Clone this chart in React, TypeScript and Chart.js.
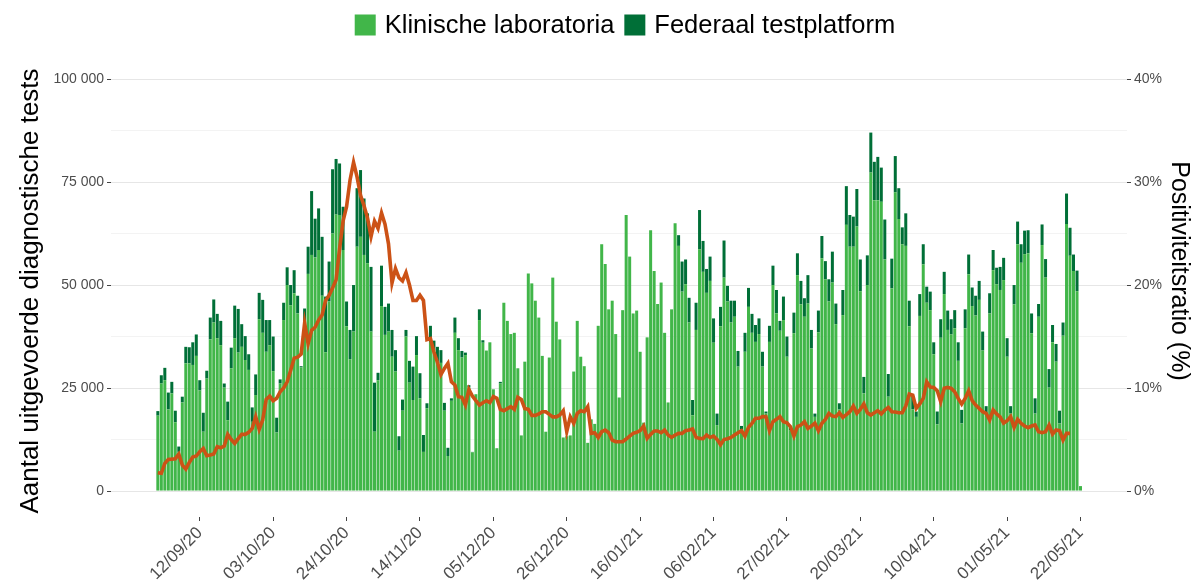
import React, { useEffect, useRef } from "react";
import { Chart, registerables } from "chart.js";
Chart.register(...registerables);

const FONT = "'Liberation Sans', Arial, sans-serif";
const LIGHT = "#41b649";
const DARK = "#006f37";
const LINE = "#cc5216";

// x tick positions (day index from 31/08/20) and labels
const tickDays = [12, 33, 54, 75, 96, 117, 138, 159, 180, 201, 222, 243, 264];
const tickLabels = ["12/09/20", "03/10/20", "24/10/20", "14/11/20", "05/12/20", "26/12/20", "16/01/21", "06/02/21", "27/02/21", "20/03/21", "10/04/21", "01/05/21", "22/05/21"];

// daily tests, thousands (day 0 = 31/08/20)
const klinische = [
  18.3, 26.1, 26.9, 19.8, 23.7, 16.7, 9.5, 21.5, 31.0, 31.0,
  30.6, 32.8, 24.4, 14.4, 27.3, 36.8, 40.9, 37.1, 35.4, 25.1,
  17.2, 29.8, 37.1, 33.6, 35.0, 31.8, 29.4, 16.8, 23.3, 41.7,
  38.4, 33.8, 35.4, 29.1, 14.2, 26.1, 41.5, 50.0, 45.1, 48.0,
  43.1, 30.0, 41.3, 52.7, 57.3, 56.7, 58.5, 47.4, 33.7, 46.0,
  62.5, 67.1, 67.0, 58.5, 40.0, 32.0, 38.7, 59.3, 61.7, 57.3,
  55.3, 38.7, 14.4, 26.9, 44.9, 37.9, 38.7, 32.6, 29.0, 9.8,
  19.5, 37.5, 26.3, 22.1, 33.0, 22.5, 9.5, 20.1, 36.2, 34.2,
  30.8, 31.1, 19.5, 8.5, 21.9, 38.4, 34.2, 32.4, 33.0, 25.2,
  9.4, 23.5, 41.5, 36.0, 34.1, 36.1, 24.7, 10.4, 26.1, 45.7,
  41.3, 38.1, 38.4, 29.8, 13.5, 31.4, 52.8, 50.4, 46.2, 42.1,
  32.8, 14.4, 32.4, 51.8, 41.1, 36.8, 13.0, 13.3, 13.5, 29.0,
  41.3, 32.6, 30.3, 11.7, 17.4, 16.3, 40.1, 59.9, 55.1, 44.1,
  46.2, 38.1, 22.7, 43.9, 67.0, 56.9, 43.1, 43.8, 33.8, 16.6,
  37.3, 63.3, 53.4, 45.4, 50.6, 38.4, 21.5, 44.1, 65.0, 59.5,
  48.4, 50.2, 40.9, 18.4, 39.1, 58.7, 53.2, 48.1, 51.0, 36.0,
  16.0, 40.0, 51.8, 46.0, 40.9, 42.3, 30.2, 15.0, 33.8, 44.7,
  38.4, 36.2, 38.1, 30.2, 18.8, 36.2, 50.0, 43.1, 38.9, 41.5,
  32.6, 14.8, 38.3, 52.4, 45.3, 42.3, 45.5, 34.6, 18.0, 38.5,
  56.5, 51.4, 46.0, 50.6, 40.5, 19.8, 42.7, 64.6, 59.3, 59.3,
  64.2, 48.5, 23.7, 50.0, 77.3, 70.6, 70.6, 70.2, 56.2, 22.9,
  49.2, 72.5, 66.0, 59.9, 59.5, 40.0, 19.8, 18.0, 42.5, 55.0,
  45.7, 43.9, 33.2, 16.2, 37.2, 47.8, 39.1, 38.0, 39.5, 31.6,
  16.4, 39.5, 52.6, 44.9, 42.6, 46.4, 34.1, 18.8, 43.1, 53.6,
  50.2, 48.8, 51.2, 32.6, 18.8, 45.3, 59.9, 55.4, 57.5, 57.7,
  38.3, 18.8, 42.3, 59.7, 51.8, 25.1, 36.1, 31.4, 16.4, 37.7,
  64.8, 57.1, 53.4, 48.5, 1.2,
];

const federaal = [
  1.1, 2.0, 3.0, 4.1, 2.8, 2.8, 1.3, 1.4, 4.0, 3.9,
  5.5, 5.2, 2.5, 4.6, 1.9, 5.3, 5.6, 5.9, 5.9, 1.0,
  4.5, 5.0, 7.9, 10.6, 5.5, 5.8, 3.8, 3.5, 5.0, 6.4,
  8.0, 7.7, 6.1, 8.4, 3.6, 1.0, 4.2, 4.3, 4.9, 5.6,
  4.3, 0.3, 3.0, 6.6, 15.5, 9.4, 10.1, 14.3, 13.5, 9.7,
  15.6, 13.5, 12.5, 10.5, 6.0, 7.1, 11.3, 14.2, 16.2, 13.7,
  12.1, 15.7, 11.9, 1.8, 9.8, 6.8, 6.8, 6.5, 5.2, 3.5,
  2.7, 1.6, 5.3, 8.1, 4.6, 6.1, 4.1, 1.2, 3.9, 2.3,
  4.2, 3.1, 1.9, 2.0, 0.6, 3.7, 2.9, 1.6, 0.6, 0.5,
  0.1, 0, 2.6, 0.6, 0, 0, 0, 0, 0.4, 0,
  0, 0, 0, 0, 0, 0, 0, 0, 0, 0,
  0, 0, 0, 0, 0, 0, 0, 0, 0, 0,
  0, 0, 0, 0, 0, 0, 0, 0, 0, 0,
  0, 0, 0, 0, 0, 0, 0, 0, 0, 0,
  0, 0, 0, 0, 0, 0, 0, 0, 0, 2.6,
  7.3, 6.0, 6.0, 3.7, 6.6, 9.5, 7.5, 5.8, 5.9, 5.9,
  2.8, 4.7, 9.0, 3.8, 5.3, 3.9, 3.8, 0.8, 4.6, 4.6,
  4.6, 4.1, 3.8, 3.6, 0.5, 3.9, 4.7, 5.7, 2.4, 5.7,
  4.9, 0.5, 5.0, 5.3, 5.7, 4.5, 6.9, 4.5, 0.8, 5.3,
  5.4, 4.4, 5.4, 7.5, 5.0, 1.5, 6.1, 9.4, 7.7, 7.3,
  9.1, 7.7, 4.0, 7.2, 9.7, 9.3, 10.5, 8.3, 9.7, 5.5,
  7.2, 8.8, 7.5, 4.1, 7.9, 6.2, 3.3, 1.3, 5.3, 4.9,
  3.9, 4.5, 2.9, 3.1, 4.5, 5.4, 4.7, 3.7, 4.4, 4.5,
  3.3, 4.6, 4.8, 4.5, 4.8, 4.6, 4.6, 1.8, 4.9, 4.9,
  4.0, 5.6, 5.4, 4.5, 1.8, 4.7, 5.5, 4.5, 5.7, 5.6,
  4.8, 3.7, 3.1, 5.0, 4.5, 4.5, 4.2, 4.3, 3.1, 3.2,
  7.4, 6.8, 4.0, 5.0, 0,
];

// positivity ratio, %
const positiviteit = [
  1.78, 1.72, 2.69, 3.07, 3.1, 3.14, 3.59, 2.52, 2.14, 2.78,
  3.3, 3.4, 3.82, 4.14, 3.43, 3.5, 3.59, 4.3, 4.2, 4.37,
  5.5, 5.0, 4.63, 5.08, 5.5, 5.5, 5.7, 6.08, 7.22, 5.99,
  6.9, 8.9, 9.22, 8.77, 9.0, 9.64, 10.0, 10.6, 11.7, 12.9,
  13.0, 13.3, 16.3, 14.3, 15.6, 15.9, 16.6, 17.1, 18.5, 19.0,
  19.7, 20.5, 23.5, 26.2, 27.6, 30.2, 31.9, 30.5, 28.7, 27.7,
  26.5, 24.7, 26.2, 25.5, 27.0, 25.9, 24.0, 20.2, 21.6, 20.7,
  20.4, 21.2, 20.0, 18.5, 18.5, 19.0, 18.5, 14.7, 14.8, 13.5,
  12.5, 11.3, 11.9, 12.4, 10.6, 10.3, 9.16, 9.1, 8.35, 9.87,
  9.22, 8.77, 8.35, 8.58, 8.77, 8.58, 9.16, 9.0, 7.93, 7.8,
  8.0, 8.2, 7.93, 9.1, 8.9, 8.0, 7.93, 7.35, 7.35, 7.48,
  7.7, 7.7, 7.44, 7.2, 7.2, 7.38, 7.8, 5.76, 7.2, 6.57,
  7.54, 7.8, 7.7, 8.19, 5.6, 5.66, 5.2, 5.76, 5.92, 5.66,
  4.95, 4.79, 4.79, 4.79, 5.05, 5.34, 5.6, 5.7, 5.86, 6.31,
  5.11, 5.5, 5.83, 5.83, 5.66, 5.92, 5.44, 5.21, 5.44, 5.6,
  5.6, 5.86, 5.92, 6.02, 5.21, 5.11, 5.08, 5.44, 5.21, 5.34,
  5.02, 4.5, 5.0, 5.08, 5.21, 5.44, 5.66, 5.86, 5.34, 6.18,
  6.57, 7.06, 7.06, 7.22, 7.22, 5.86, 6.73, 6.96, 7.22, 6.73,
  6.63, 6.25, 5.34, 6.25, 6.41, 6.73, 6.08, 6.31, 6.6, 5.86,
  6.57, 6.96, 7.54, 7.28, 7.22, 7.6, 7.15, 7.41, 7.7, 8.25,
  7.54, 7.93, 8.45, 7.6, 7.38, 7.6, 7.8, 7.48, 7.86, 8.12,
  7.7, 7.67, 7.6, 7.6, 8.25, 9.42, 9.3, 8.03, 8.45, 9.0,
  10.6, 10.1, 10.06, 9.74, 8.67, 9.97, 10.06, 9.97, 9.64, 9.0,
  8.45, 9.0, 9.74, 8.77, 8.35, 8.03, 7.7, 7.54, 6.89, 7.86,
  7.48, 7.2, 6.6, 6.83, 7.22, 6.18, 6.96, 6.57, 6.31, 6.15,
  6.31, 6.41, 5.76, 5.66, 5.76, 6.41, 5.53, 5.92, 5.86, 4.95,
  5.6, 5.6,
];

const leftTicks = [0, 25000, 50000, 75000, 100000];
const rightTicks = [0, 10, 20, 30, 40];

const fmtThousands = (v: number) => String(v).replace(/\B(?=(\d{3})+(?!\d))/g, " ");

const textPlugin = {
  id: "textPlugin",
  afterDraw(chart: any) {
    const ctx = chart.ctx as CanvasRenderingContext2D;
    ctx.save();
    // legend
    ctx.font = `25.5px ${FONT}`;
    ctx.textBaseline = "middle";
    ctx.textAlign = "left";
    const t1 = "Klinische laboratoria";
    const t2 = "Federaal testplatform";
    const box = 21, gap = 9, space = 10;
    const w1 = ctx.measureText(t1).width;
    const w2 = ctx.measureText(t2).width;
    const total = box + gap + w1 + space + box + gap + w2;
    let x = 625 - total / 2;
    const cy = 25;
    ctx.fillStyle = LIGHT;
    ctx.fillRect(x, cy - box / 2, box, box);
    ctx.fillStyle = "#000";
    ctx.fillText(t1, x + box + gap, cy + 1);
    x += box + gap + w1 + space;
    ctx.fillStyle = DARK;
    ctx.fillRect(x, cy - box / 2, box, box);
    ctx.fillStyle = "#000";
    ctx.fillText(t2, x + box + gap, cy + 1);

    // left title
    ctx.save();
    ctx.translate(31, 291);
    ctx.rotate(-Math.PI / 2);
    ctx.textAlign = "center";
    ctx.font = `26px ${FONT}`;
    ctx.fillText("Aantal uitgevoerde diagnostische tests", 0, 0);
    ctx.restore();

    // right title
    ctx.save();
    ctx.translate(1179, 271);
    ctx.rotate(Math.PI / 2);
    ctx.textAlign = "center";
    ctx.font = `25px ${FONT}`;
    ctx.fillText("Positiviteitsratio (%)", 0, 0);
    ctx.restore();
    ctx.restore();
  },
};

export default function App() {
  const ref = useRef<HTMLCanvasElement | null>(null);
  useEffect(() => {
    document.body.style.margin = "0";
    const canvas = ref.current;
    if (!canvas) return;
    const klinData = klinische.map((v, i) => ({ x: i, y: v * 1000 }));
    const fedData = federaal.map((v, i) => ({ x: i, y: v * 1000 }));
    const posData = positiviteit.map((v, i) => ({ x: i, y: v }));
    const chart = new Chart(canvas, {
      type: "bar",
      data: {
        datasets: [
          {
            type: "line",
            label: "Positiviteitsratio",
            data: posData,
            yAxisID: "y2",
            borderColor: LINE,
            borderWidth: 3.6,
            pointRadius: 0,
            tension: 0,
            order: 0,
          } as any,
          {
            label: "Klinische laboratoria",
            data: klinData,
            backgroundColor: LIGHT,
            stack: "s",
            yAxisID: "y",
            barPercentage: 0.86,
            categoryPercentage: 1,
            order: 1,
          },
          {
            label: "Federaal testplatform",
            data: fedData,
            backgroundColor: DARK,
            stack: "s",
            yAxisID: "y",
            barPercentage: 0.86,
            categoryPercentage: 1,
            order: 1,
          },
        ],
      },
      options: {
        animation: false,
        responsive: false,
        layout: { padding: { top: 58, left: 0, right: 0, bottom: 0 } },
        plugins: { legend: { display: false }, tooltip: { enabled: false } },
        scales: {
          x: {
            type: "linear",
            offset: false,
            min: -13.4,
            max: 277.3,
            stacked: true,
            afterBuildTicks: (scale: any) => {
              scale.ticks = tickDays.map((v) => ({ value: v }));
            },
            afterFit: (scale: any) => {
              scale.height = 69;
            },
            ticks: {
              autoSkip: false,
              maxRotation: 45,
              minRotation: 45,
              padding: 2,
              color: "#4d4d4d",
              font: { family: FONT, size: 17 },
              callback: (_v: any, i: number) => tickLabels[i],
            },
            grid: { offset: false, drawOnChartArea: false, drawTicks: true, tickLength: 4, tickColor: "#444" },
            border: { display: false },
          },
          y: {
            position: "left",
            stacked: true,
            min: -6300,
            max: 105100,
            afterBuildTicks: (scale: any) => {
              const t = [];
              for (let v = 0; v <= 100000; v += 12500) t.push({ value: v });
              scale.ticks = t;
            },
            afterFit: (scale: any) => {
              scale.width = 111;
            },
            ticks: {
              padding: 3,
              color: "#4d4d4d",
              font: { family: FONT, size: 14 },
              callback: (v: any) => (leftTicks.includes(v) ? fmtThousands(v) : ""),
            },
            grid: {
              color: (c: any) => (c.tick && c.tick.value % 25000 === 0 ? "#e6e6e6" : "#f3f3f3"),
              lineWidth: 1,
              tickLength: 4,
              tickColor: (c: any) => (c.tick && c.tick.value % 25000 === 0 ? "#444" : "rgba(0,0,0,0)"),
            },
            border: { display: false },
          },
          y2: {
            position: "right",
            min: -2.52,
            max: 42.04,
            afterBuildTicks: (scale: any) => {
              scale.ticks = rightTicks.map((v) => ({ value: v }));
            },
            afterFit: (scale: any) => {
              scale.width = 67;
            },
            ticks: {
              padding: 3,
              color: "#4d4d4d",
              font: { family: FONT, size: 14 },
              callback: (v: any) => `${v}%`,
            },
            grid: { drawOnChartArea: false, tickLength: 4, tickColor: "#444" },
            border: { display: false },
          },
        },
      },
      plugins: [textPlugin],
    });
    return () => chart.destroy();
  }, []);
  return (
    <div style={{ width: 1194, height: 586 }}>
      <canvas ref={ref} width={1194} height={586} style={{ display: "block" }} />
    </div>
  );
}
